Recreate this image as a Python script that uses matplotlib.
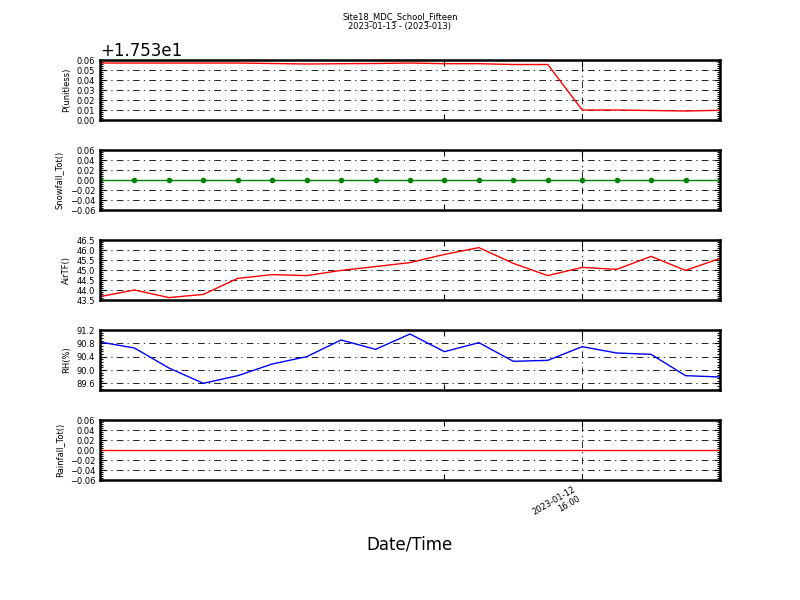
import numpy as np
import pandas as pd
import matplotlib
matplotlib.use('Agg')
import matplotlib.pyplot as plt
import matplotlib.dates as mdates
from matplotlib.ticker import ScalarFormatter, AutoMinorLocator, MultipleLocator

# hourly samples
times = pd.date_range('2023-01-12 02:00', periods=19, freq='h')

# P(unitless), plotted with an offset of 17.53
pressure = 17.53 + np.array([0.057, 0.057, 0.057, 0.057, 0.057, 0.0565, 0.056, 0.0563,
                             0.0565, 0.057, 0.0563, 0.0563, 0.0555, 0.0555, 0.010,
                             0.010, 0.0095, 0.009, 0.0097])
snowfall = [0.0] * 19
air_temp = [43.67, 44.0, 43.62, 43.78, 44.58, 44.77, 44.72, 44.98, 45.17, 45.37,
            45.78, 46.12, 45.33, 44.72, 45.13, 45.03, 45.68, 44.98, 45.58]
rh = [90.84, 90.66, 90.06, 89.60, 89.83, 90.18, 90.40, 90.90, 90.62, 91.08,
      90.55, 90.82, 90.26, 90.29, 90.70, 90.51, 90.47, 89.83, 89.79]
rainfall = [0.0] * 19

ylabels = ['P(unitless)', 'Snowfall_Tot()', 'AirTF()', 'RH(%)', 'Rainfall_Tot()']
series = [pressure, snowfall, air_temp, rh, rainfall]
colors = ['r', 'g', 'r', 'b', 'r']
ylims = [(17.53, 17.59), (-0.06, 0.06), (43.5, 46.5), (89.4, 91.2), (-0.06, 0.06)]
ysteps = [0.01, 0.02, 0.5, 0.4, 0.02]

fig, axes = plt.subplots(5, 1, figsize=(8, 6), dpi=100, sharex=True)
fig.subplots_adjust(left=0.125, right=0.9, top=0.9, bottom=0.2, hspace=0.5)
fig.suptitle('Site18_MDC_School_Fifteen\n2023-01-13 - (2023-013)', fontsize=6, y=0.98)

grid_style = (0, (8, 5, 1.5, 5))

for i, ax in enumerate(axes):
    if ylabels[i] == 'Snowfall_Tot()':
        ax.plot(times, series[i], color=colors[i], lw=1, marker='o', ms=3,
                mec=colors[i])
    else:
        ax.plot(times, series[i], color=colors[i], lw=1)
    ax.set_ylim(*ylims[i])
    ax.yaxis.set_major_locator(MultipleLocator(ysteps[i]))
    ax.yaxis.set_minor_locator(AutoMinorLocator(5))
    ax.set_ylabel(ylabels[i], fontsize=6)
    ax.tick_params(axis='both', which='both', direction='in', top=True, right=True,
                   labelsize=6, width=0.8)
    ax.tick_params(axis='both', which='major', length=4)
    ax.tick_params(axis='y', which='minor', length=2)
    ax.tick_params(axis='x', which='minor', length=4)
    ax.grid(True, which='major', color='k', linestyle=grid_style, linewidth=0.6)
    for sp in ax.spines.values():
        sp.set_linewidth(1.8)

fmt = ScalarFormatter(useOffset=17.53)
axes[0].yaxis.set_major_formatter(fmt)
axes[0].yaxis.get_offset_text().set_fontsize(12)

axes[-1].set_xlim(times[0], times[-1])
axes[-1].set_xticks([times[14]])
axes[-1].set_xticks([times[10]], minor=True)
axes[-1].xaxis.set_major_formatter(mdates.DateFormatter('%Y-%m-%d\n%H:%M'))
plt.setp(axes[-1].get_xticklabels(), rotation=30, ha='right', fontsize=6)

axes[-1].set_xlabel('Date/Time', fontsize=12)
axes[-1].xaxis.set_label_coords(0.5, -0.93)

fig.savefig('out.png', dpi=100)
